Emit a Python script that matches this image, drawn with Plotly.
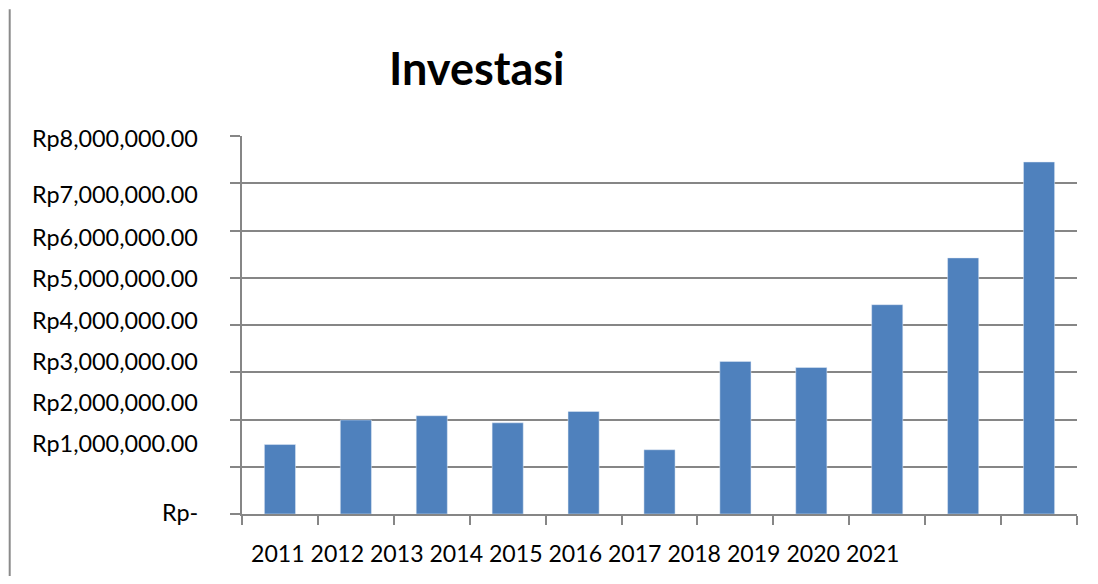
import plotly.graph_objects as go

years = ["2011", "2012", "2013", "2014", "2015", "2016", "2017", "2018", "2019", "2020", "2021"]
investasi = [1470000, 1990000, 2080000, 1930000, 2170000, 1360000, 3230000, 3100000, 4430000, 5420000, 7450000]
y_ticks = [0, 1000000, 2000000, 3000000, 4000000, 5000000, 6000000, 7000000, 8000000]
# vertical (paper) placement of the y tick labels as they appear in the original (misaligned) chart
y_label_pos = [0.004, 0.189, 0.295, 0.405, 0.514, 0.625, 0.734, 0.847, 0.995]
title_text = "Investasi"

def rp(v):
    return "Rp-" if v == 0 else "Rp{:,.2f}".format(v)

FONT = "Lato, Calibri, Carlito, sans-serif"
GRID = "#868686"

fig = go.Figure()
fig.add_trace(go.Bar(x=years, y=investasi, marker_color="#4F81BD", width=0.41))

# page body has an 8px margin, so the figure is 16px smaller than the window
fig.update_layout(
    width=1082, height=568,
    margin=dict(l=234, r=13, t=128, b=61.6),
    paper_bgcolor="white", plot_bgcolor="white",
    showlegend=False,
    font=dict(family=FONT, color="black"),
)
fig.update_xaxes(
    type="category", showticklabels=False, ticks="outside", tickson="boundaries",
    ticklen=9, tickcolor=GRID, tickwidth=1.5,
    showline=True, linecolor=GRID, linewidth=1.5, showgrid=False,
)
fig.update_yaxes(
    range=[0, 8000000], tickvals=y_ticks, showticklabels=False,
    ticks="outside", ticklen=10, tickcolor=GRID, tickwidth=1.5,
    showgrid=True, gridcolor=GRID, gridwidth=1.5,
    showline=True, linecolor=GRID, linewidth=1.5, zeroline=False,
)

for v, p in zip(y_ticks, y_label_pos):
    fig.add_annotation(text=rp(v), xref="paper", yref="paper", x=-0.05, y=p,
                       xanchor="right", yanchor="middle", showarrow=False,
                       font=dict(size=23.4, family=FONT, color="black"))

fig.add_annotation(text=" ".join(years), xref="paper", yref="paper", x=0.3994, y=-0.102,
                   xanchor="center", yanchor="middle", showarrow=False,
                   font=dict(size=23.1, family=FONT, color="black"))

fig.add_annotation(text="<b>" + title_text + "</b>", xref="paper", yref="paper",
                   x=0.2814, y=1.18, xanchor="center", yanchor="middle", showarrow=False,
                   font=dict(size=45, family=FONT, color="black"))

fig.add_shape(type="line", xref="paper", yref="paper", x0=-0.2782, x1=-0.2782,
              y0=-0.2, y1=1.3356, line=dict(color="#8a8a8a", width=2))

fig.write_html("out.html")
